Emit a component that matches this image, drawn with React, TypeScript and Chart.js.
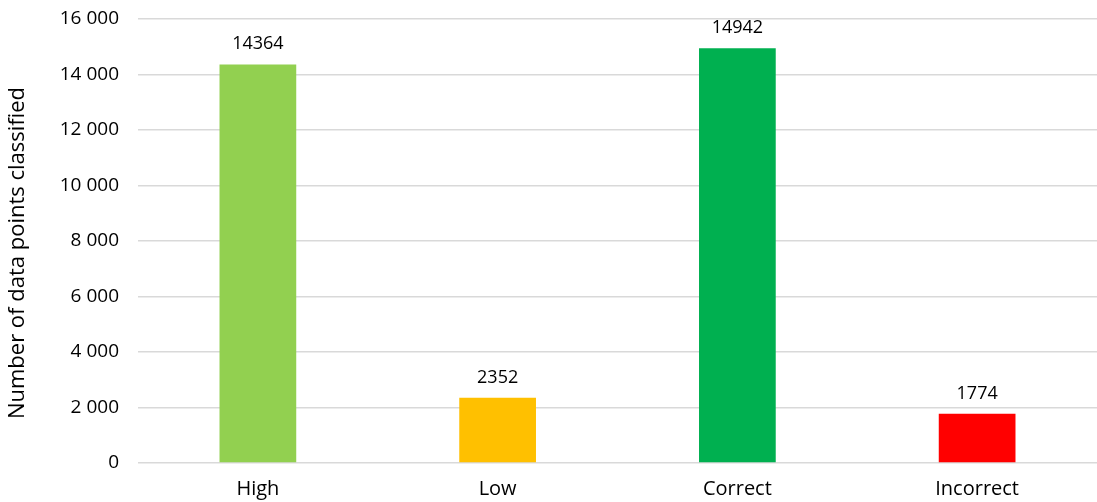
import React, { useEffect, useRef } from "react";
import { Chart, registerables } from "chart.js";

Chart.register(...registerables);

const categories = ["High", "Low", "Correct", "Incorrect"];
const values = [14364, 2352, 14942, 1774];
const barColors = ["#92D050", "#FFC000", "#00B050", "#FF0000"];
const yTitle = "Number of data points classified";

const FONT = "'Open Sans', 'DejaVu Sans', sans-serif";

const fmt = (v: number) => {
  const s = Math.round(v).toString();
  return s.replace(/\B(?=(\d{3})+(?!\d))/g, " ");
};

const dataLabels = {
  id: "dataLabels",
  afterDatasetsDraw(chart: any) {
    const ctx = chart.ctx;
    const meta = chart.getDatasetMeta(0);
    ctx.save();
    ctx.font = `18px ${FONT}`;
    ctx.fillStyle = "#000";
    ctx.textAlign = "center";
    ctx.textBaseline = "alphabetic";
    meta.data.forEach((bar: any, i: number) => {
      ctx.fillText(String(values[i]), bar.x, bar.y - 15);
    });
    ctx.restore();
  },
};

const yTitlePlugin = {
  id: "yTitlePlugin",
  afterDraw(chart: any) {
    const ctx = chart.ctx;
    ctx.save();
    ctx.font = `22px ${FONT}`;
    ctx.fillStyle = "#000";
    ctx.textAlign = "center";
    ctx.textBaseline = "middle";
    ctx.translate(18, chart.height / 2 + 2);
    ctx.rotate(-Math.PI / 2);
    ctx.fillText(yTitle, 0, 0);
    ctx.restore();
  },
};

export default function App() {
  const ref = useRef<HTMLCanvasElement>(null);
  useEffect(() => {
    document.body.style.margin = "0";
    const chart = new Chart(ref.current!, {
      type: "bar",
      data: {
        labels: categories,
        datasets: [
          {
            data: values,
            backgroundColor: barColors,
            categoryPercentage: 0.32,
            barPercentage: 1,
          },
        ],
      },
      options: {
        animation: false,
        responsive: false,
        layout: { padding: { top: 19, right: 0, left: 0, bottom: 0 } },
        plugins: { legend: { display: false }, tooltip: { enabled: false } },
        scales: {
          x: {
            grid: { display: false },
            border: { display: false },
            ticks: { color: "#000", font: { family: FONT, size: 20 }, padding: 6 },
            afterFit: (s: any) => {
              s.height = 39;
            },
          },
          y: {
            min: 0,
            max: 16000,
            ticks: {
              stepSize: 2000,
              color: "#000",
              font: { family: FONT, size: 19 },
              padding: 0,
              callback: (v: any) => fmt(Number(v)),
            },
            grid: {
              color: "#d9d9d9",
              lineWidth: 1.5,
              drawTicks: true,
              tickLength: 19,
              tickColor: "rgba(0,0,0,0)",
            },
            border: { display: false },
            afterFit: (s: any) => {
              s.width = 138;
            },
          },
        },
      },
      plugins: [dataLabels, yTitlePlugin],
    });
    return () => chart.destroy();
  }, []);
  return <canvas ref={ref} width={1097} height={502} style={{ display: "block" }} />;
}
